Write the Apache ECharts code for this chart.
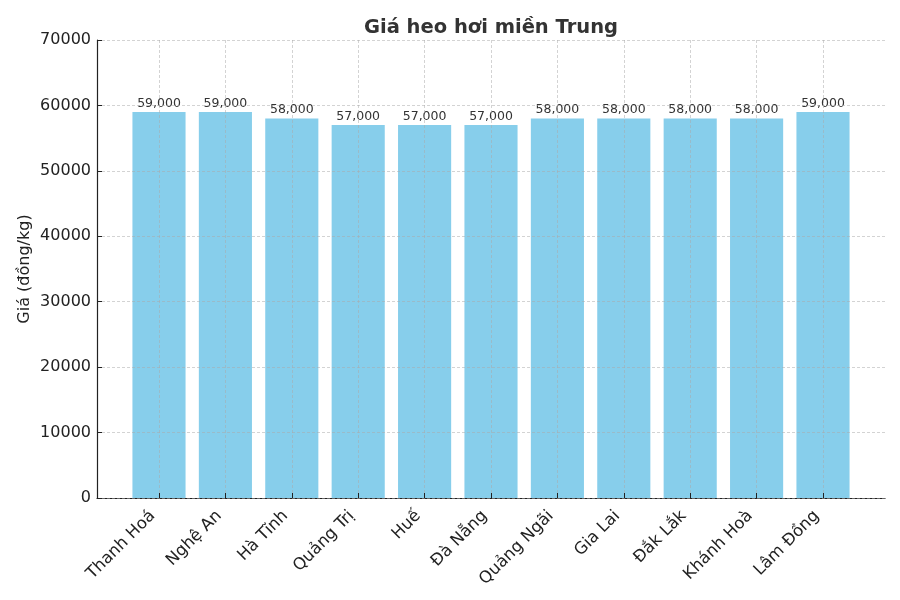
<!DOCTYPE html>
<html>
<head>
<meta charset="utf-8">
<script src="https://cdn.jsdelivr.net/npm/echarts@6/dist/echarts.min.js"></script>
<style>
html, body { margin: 0; padding: 0; background: #fff; }
#chart { width: 900px; height: 600px; }
</style>
</head>
<body>
<div id="chart"></div>
<script>
// du lieu gia heo hoi
const provinces = ['Thanh Hoá', 'Nghệ An', 'Hà Tĩnh', 'Quảng Trị', 'Huế', 'Đà Nẵng',
    'Quảng Ngãi', 'Gia Lai', 'Đắk Lắk', 'Khánh Hoà', 'Lâm Đồng']
const prices = [59000, 59000, 58000, 57000, 57000, 57000, 58000, 58000, 58000, 58000, 59000]
const yMin = 0
const yMax = 70000
const yStep = 10000

const font = 'DejaVu Sans'
const gridLine = { show: true, lineStyle: { color: 'rgba(170,170,170,0.65)', type: [3, 2], width: 0.8 } }

const chart = echarts.init(document.getElementById('chart'))

const option = {
    animation: false,
    textStyle: { fontFamily: font },
    title: {
        text: 'Giá heo hơi miền Trung',
        left: 486,
        textAlign: 'center',
        top: 13,
        textStyle: { fontFamily: font, fontSize: 19.5, fontWeight: 'bold', color: '#333' }
    },
    grid: [
        // khung chinh: truc y + duong luoi ngang
        { left: 97, right: 15, top: 40, bottom: 102 },
        // vung cot: tam cot dau va cuoi
        { left: 159, right: 77, top: 40, bottom: 102 }
    ],
    xAxis: [
        {
            gridIndex: 0, type: 'value', min: 0, max: 1,
            axisLine: { show: true, lineStyle: { color: '#222', width: 1.2 } },
            axisTick: { show: false }, axisLabel: { show: false }, splitLine: { show: false }
        },
        {
            gridIndex: 1, type: 'category', data: provinces, boundaryGap: false, z: 3,
            axisLine: { show: false },
            axisTick: { show: true, inside: true, length: 5, alignWithLabel: true, lineStyle: { color: '#222' } },
            axisLabel: { interval: 0, rotate: 45, margin: 9, padding: [0, 9, 0, 0], fontSize: 16.5, color: '#222', fontFamily: font },
            splitLine: Object.assign({ interval: 0 }, gridLine)
        }
    ],
    yAxis: [
        {
            gridIndex: 0, type: 'value', min: yMin, max: yMax, interval: yStep, z: 3,
            name: 'Giá (đồng/kg)',
            nameLocation: 'middle',
            nameGap: 64,
            nameMoveOverlap: false,
            nameTextStyle: { fontSize: 16, color: '#222', fontFamily: font },
            axisLine: { show: true, lineStyle: { color: '#222', width: 1.2 } },
            axisTick: { show: true, inside: true, length: 5, lineStyle: { color: '#222' } },
            axisLabel: { fontSize: 16, color: '#222', margin: 6, fontFamily: font, formatter: v => String(v) },
            splitLine: gridLine
        },
        { gridIndex: 1, type: 'value', min: yMin, max: yMax, show: false }
    ],
    series: [{
        type: 'bar',
        xAxisIndex: 1,
        yAxisIndex: 1,
        data: prices,
        barWidth: '80%',
        clip: false,
        itemStyle: { color: '#87CEEB' },
        label: {
            show: true,
            position: 'top',
            distance: 2,
            fontSize: 12.5,
            color: '#333',
            fontFamily: font,
            formatter: p => String(p.value).replace(/\B(?=(\d{3})+(?!\d))/g, ',')
        }
    }]
}

chart.setOption(option)
</script>
</body>
</html>
